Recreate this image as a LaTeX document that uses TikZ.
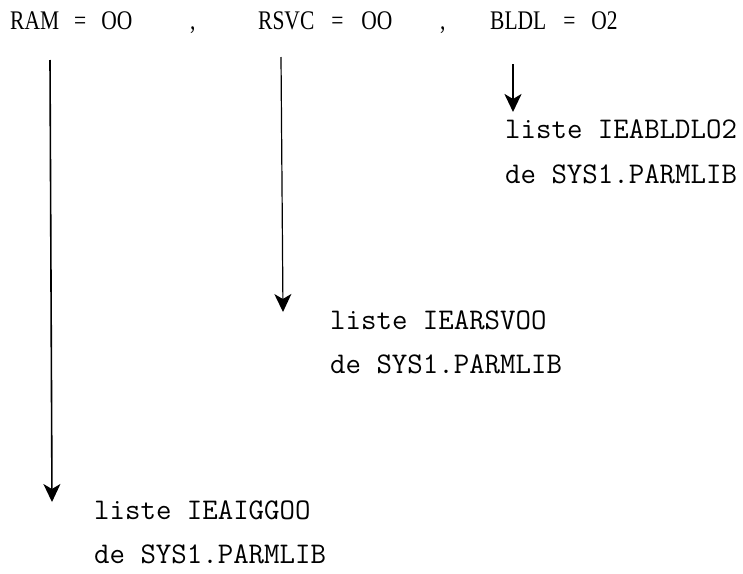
\documentclass[tikz,border=0pt]{standalone}
\usepackage{fontspec}
\usetikzlibrary{arrows.meta}
\newfontfamily\titrefont{Liberation Serif}

\tikzset{
  parm/.style={anchor=base west, inner sep=0pt, yscale=1.25, font=\fontsize{21.5}{26}\selectfont\titrefont},
  liste/.style={anchor=base west, inner sep=0pt, font=\fontsize{30}{36}\selectfont\ttfamily},
  fleche/.style={line width=1.6pt, -{Stealth[length=18pt, width=17pt, inset=5pt]}}
}

\begin{document}
\begin{tikzpicture}[x=1pt, y=-1pt]
    \useasboundingbox (0,0) rectangle (743,573);

    % ligne des parametres
    \node[parm] (ram) at (10, 29) {RAM\hspace{15pt}=\hspace{15pt}OO};
    \node[parm] (virg1) at (190, 29) {,};
    \node[parm] (rsvc) at (258, 29) {RSVC\hspace{17pt}=\hspace{18pt}OO};
    \node[parm] (virg2) at (440, 29) {,};
    \node[parm] (bldl) at (490, 29) {BLDL\hspace{17pt}=\hspace{16pt}O2};

    % listes de SYS1.PARMLIB
    \node[liste] (bldlA) at (505, 138) {liste IEABLDLO2};
    \node[liste] (bldlB) at (505, 183) {de SYS1.PARMLIB};
    \node[liste] (rsvcA) at (330, 329) {liste IEARSVOO};
    \node[liste] (rsvcB) at (330, 373) {de SYS1.PARMLIB};
    \node[liste] (ramA) at (94, 519) {liste IEAIGGOO};
    \node[liste] (ramB) at (94, 563) {de SYS1.PARMLIB};

    % fleches
    \coordinate (ramhaut) at (50, 60);
    \coordinate (ramfin) at (52, 502);
    \coordinate (rsvchaut) at (281, 57);
    \coordinate (rsvcfin) at (283, 312);
    \coordinate (bldlhaut) at (513, 64);
    \coordinate (bldlfin) at (513, 112);

    \draw[fleche] (ramhaut) -- (ramfin);
    \draw[fleche, line width=1.2pt] (rsvchaut) -- (rsvcfin);
    \draw[fleche, line width=2.6pt] (bldlhaut) -- (bldlfin);
\end{tikzpicture}
\end{document}
